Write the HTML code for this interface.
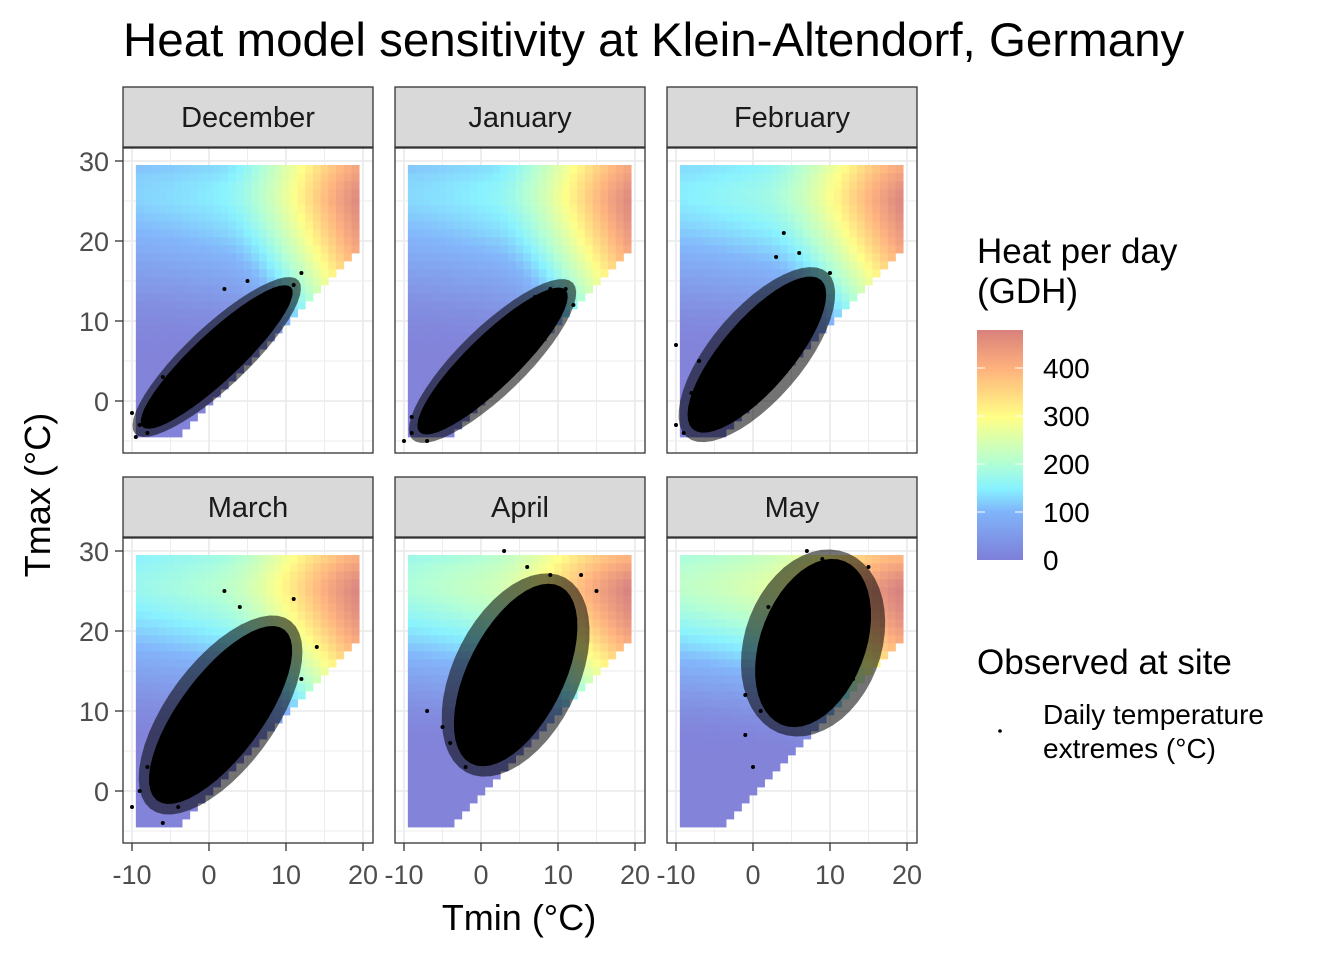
<!DOCTYPE html>
<html><head><meta charset="utf-8">
<style>
html,body{margin:0;padding:0;background:#fff;}
svg{display:block;font-family:"Liberation Sans",Arial,sans-serif;}
</style></head>
<body>
<svg id="chart" width="1344" height="960" viewBox="0 0 1344 960">
<text x="123" y="56" font-size="47.5" fill="#000">Heat model sensitivity at Klein-Altendorf, Germany</text>
<g id="panels"></g>
<text transform="translate(50,495) rotate(-90)" text-anchor="middle" font-size="36">Tmax (°C)</text>
<text x="519" y="930" text-anchor="middle" font-size="36">Tmin (°C)</text>
<g>
<text x="977" y="263" font-size="35">Heat per day</text>
<text x="977" y="303" font-size="35">(GDH)</text>
<defs><linearGradient id="cbar" x1="0" y1="1" x2="0" y2="0">
<stop offset="0" stop-color="#7e7fd8"/><stop offset="0.21" stop-color="#80b4fb"/>
<stop offset="0.31" stop-color="#86f2ff"/><stop offset="0.42" stop-color="#b2ffd4"/>
<stop offset="0.62" stop-color="#ffff86"/><stop offset="0.83" stop-color="#ffb27c"/>
<stop offset="1" stop-color="#d8807c"/></linearGradient></defs>
<rect x="977" y="330" width="46" height="230" fill="url(#cbar)"/>
<g id="cbticks"></g>
<text x="977" y="674" font-size="35">Observed at site</text>
<circle cx="1000" cy="731" r="1.8" fill="#000"/>
<text x="1043" y="724" font-size="28">Daily temperature</text>
<text x="1043" y="758" font-size="28">extremes (°C)</text>
</g>
</svg>
<script>
const months = ["December","January","February","March","April","May"];
const dayLength = [8.0, 8.4, 9.9, 11.9, 13.9, 15.5];
const tminCats = [-9,-8,-7,-6,-5,-4,-3,-2,-1,0,1,2,3,4,5,6,7,8,9,10,11,12,13,14,15,16,17,18,19];
const tmaxCats = [-4,-3,-2,-1,0,1,2,3,4,5,6,7,8,9,10,11,12,13,14,15,16,17,18,19,20,21,22,23,24,25,26,27,28,29];
const xTicks = [-10,0,10,20];
const yTicks = [0,10,20,30];
const legendTicks = [0,100,200,300,400];
// point-cloud summaries: centre Tmin, centre Tmax, half-length, half-width, angle(deg)
const cloudTmin = [1.0, 1.5, 0.5, 1.5, 4.5, 7.8];
const cloudTmax = [5.5, 5.0, 5.8, 9.5, 14.5, 18.5];
const cloudLen = [13, 13, 12.5, 13.5, 12.5, 11];
const cloudWid = [3.0, 3.3, 4.5, 5.3, 6.2, 6.8];
const cloudAng = [42, 43, 48, 52, 62, 68];
const outliers = [
 [[-10,-1.5],[-9.5,-4.5],[-6,3],[-3,0.5],[5,15],[2,14],[12,16],[11,14.5],[-9,-3],[-8,-4],[9,13]],
 [[-10,-5],[-9,-4],[-7,-5],[-3,3],[11,14],[7,13],[12,12],[-9,-2],[9,14]],
 [[-10,-3],[-10,7],[-7,5],[4,21],[6,18.5],[10,16],[9,13],[-9,-4],[-8,1],[3,18],[7,15]],
 [[-10,-2],[-6,-4],[-8,3],[2,25],[4,23],[11,24],[14,18],[12,14],[-9,0],[8,20],[-4,-2]],
 [[-7,10],[-5,8],[-2,3],[3,30],[9,27],[13,27],[15,25],[10,22],[-4,6],[12,20],[6,28]],
 [[-1,7],[0,3],[-1,12],[7,30],[9,29],[15,28],[15,22],[13,14],[1,10],[14,25],[2,23]]
];
const colStops=[[0,[126,127,216]],[100,[128,180,251]],[150,[134,242,255]],[200,[178,255,212]],[300,[255,255,134]],[400,[255,178,124]],[480,[216,128,124]]];
function col(v){v=Math.max(0,Math.min(480,v));for(let i=1;i<colStops.length;i++){if(v<=colStops[i][0]){const a=colStops[i-1],b=colStops[i];const t=(v-a[0])/(b[0]-a[0]);return 'rgb('+a[1].map((c,k)=>Math.round(c+(b[1][k]-c)*t)).join(',')+')';}}return 'rgb(216,128,124)';}
function gdhHour(T){const Tb=4,Tu=25,Tc=36;if(T<=Tb)return 0;if(T<=Tu)return (Tu-Tb)/2*(1+Math.cos(Math.PI+Math.PI*(T-Tb)/(Tu-Tb)));if(T<=Tc)return (Tu-Tb)*(1+Math.cos(Math.PI/2+Math.PI/2*(T-Tu)/(Tc-Tu)));return 0;}
function heat(tn,tx,D){let s=0;const E=D+2.5;const sr=12-E/2;for(let h=0;h<24;h++){let T;const hh=h+0.5;if(hh>=sr&&hh<=sr+E){T=tn+(tx-tn)*Math.pow(Math.sin(Math.PI*(hh-sr)/E),0.8);}else{T=tn+(tx-tn)*0.12;}s+=gdhHour(T);}return s*1.02;}
const NS="http://www.w3.org/2000/svg";
function el(tag,attrs,parent){const e=document.createElementNS(NS,tag);for(const k in attrs)e.setAttribute(k,attrs[k]);parent.appendChild(e);return e;}
const colX=[123,395,667], rowY=[87,477];
const panels=document.getElementById('panels');
months.forEach((m,i)=>{
 const c=i%3,r=Math.floor(i/3);
 const x0=colX[c], sy=rowY[r], py=sy+61;
 const xs=t=>x0+9+(t+10)*7.7, ys=t=>py+13+(30-t)*8;
 const g=el('g',{},panels);
 
 
 const strip=el('rect',{x:x0,y:sy,width:250,height:60,fill:'#d9d9d9',stroke:'#333','stroke-width':1.3},g);
 
 
 const st=el('text',{x:x0+125,y:sy+40,'text-anchor':'middle','font-size':29,fill:'#1a1a1a'},g);st.textContent=m;
 
 
 el('rect',{x:x0,y:py,width:250,height:305,fill:'#fff'},g);
 [-5,5,15].forEach(v=>el('line',{x1:xs(v),x2:xs(v),y1:py,y2:py+305,stroke:'#ebebeb','stroke-width':0.9},g));
 [-5,5,15,25].forEach(v=>el('line',{x1:x0,x2:x0+250,y1:ys(v),y2:ys(v),stroke:'#ebebeb','stroke-width':0.9},g));
 xTicks.forEach(v=>el('line',{x1:xs(v),x2:xs(v),y1:py,y2:py+305,stroke:'#ebebeb','stroke-width':1.8},g));
 yTicks.forEach(v=>el('line',{x1:x0,x2:x0+250,y1:ys(v),y2:ys(v),stroke:'#ebebeb','stroke-width':1.8},g));
 const hg=el('g',{opacity:0.97},g);
 
 
 tminCats.forEach(tn=>tmaxCats.forEach(tx=>{
   if(tx<tn)return;
   const cell=el('rect',{x:xs(tn-0.5),y:ys(tx+0.5),width:7.7+0.4,height:8.4,fill:col(heat(tn,tx,dayLength[i]))},hg);
   
   
 }));
 const a=cloudAng[i]*Math.PI/180;const ux=Math.cos(a),uy=Math.sin(a);
 function ell(L,W){let p=[];for(let k=0;k<48;k++){const t=k/48*2*Math.PI;const dx=L*Math.cos(t)*ux-W*Math.sin(t)*uy,dy=L*Math.cos(t)*uy+W*Math.sin(t)*ux;p.push(xs(cloudTmin[i]+dx).toFixed(1)+','+ys(cloudTmax[i]+dy).toFixed(1));}return p.join(' ');}
 const f=el('polygon',{points:ell(cloudLen[i]*1.1,cloudWid[i]*1.3),fill:'#000',opacity:0.55},g);
 
 
 const cl=el('polygon',{points:ell(cloudLen[i],cloudWid[i]),fill:'#000'},g);
 
 
 outliers[i].forEach(p=>{const d=el('circle',{cx:xs(p[0]),cy:ys(p[1]),r:2,fill:'#000'},g);
   
   });
 el('rect',{x:x0,y:py,width:250,height:305,fill:'none',stroke:'#333','stroke-width':1.3},g);
 if(c===0){yTicks.forEach(v=>{el('line',{x1:x0-8,x2:x0,y1:ys(v),y2:ys(v),stroke:'#333','stroke-width':1.3},g);
   const t=el('text',{x:x0-14,y:ys(v)+10,'text-anchor':'end','font-size':27,fill:'#4d4d4d'},g);t.textContent=v;
   
   });}
 if(r===1){xTicks.forEach(v=>{el('line',{x1:xs(v),x2:xs(v),y1:py+305,y2:py+313,stroke:'#333','stroke-width':1.3},g);
   const t=el('text',{x:xs(v),y:py+346,'text-anchor':'middle','font-size':27,fill:'#4d4d4d'},g);t.textContent=v;
   
   });}
});
const cb=document.getElementById('cbticks');
legendTicks.forEach(v=>{const y=560-v*0.48;
 if(v>0){el('line',{x1:977,x2:985,y1:y,y2:y,stroke:'#fff','stroke-width':1},cb);el('line',{x1:1015,x2:1023,y1:y,y2:y,stroke:'#fff','stroke-width':1},cb);}
 const t=el('text',{x:1043,y:y+10,'font-size':28},cb);t.textContent=v;
 
 });
</script>
</body></html>
